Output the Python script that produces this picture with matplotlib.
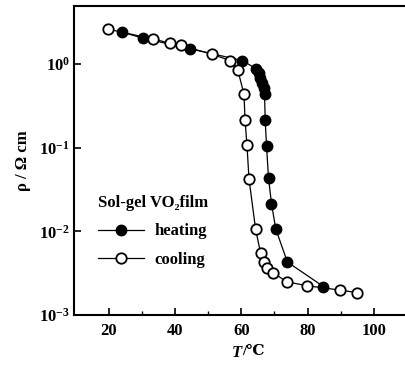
import matplotlib
matplotlib.use("Agg")
from matplotlib import pyplot as plt
from matplotlib.ticker import FixedLocator, NullLocator

# Heating curve (filled circles)
heat_T = [24.0, 30.2, 44.4, 60.3, 64.5, 65.2, 65.7, 66.2, 66.7, 67.0,
          67.2, 67.6, 68.2, 69.1, 70.4, 73.9, 84.8]
heat_rho = [2.38, 2.02, 1.51, 1.09, 0.87, 0.77, 0.68, 0.59, 0.51, 0.43,
            0.211, 0.104, 0.043, 0.0214, 0.0106, 0.0043, 0.00219]

# Cooling curve (open circles)
cool_T = [19.6, 33.4, 38.4, 41.7, 51.1, 56.6, 58.9, 60.8, 61.1, 61.7,
          62.3, 64.3, 65.8, 66.9, 67.8, 69.6, 73.7, 79.9, 89.8, 94.8]
cool_rho = [2.59, 1.97, 1.76, 1.65, 1.30, 1.09, 0.85, 0.43, 0.215, 0.106,
            0.0424, 0.0106, 0.0055, 0.0043, 0.0037, 0.0032, 0.0025, 0.00224,
            0.00199, 0.00186]

x_ticks = [20, 40, 60, 80, 100]
x_minor = [30, 50, 70, 90]
y_ticks = [1e-3, 1e-2, 1e-1, 1e0]
y_labels = [r"$10^{-3}$", r"$10^{-2}$", r"$10^{-1}$", r"$10^{0}$"]

plt.rcParams['font.family'] = ['Liberation Serif', 'DejaVu Serif']
plt.rcParams['font.weight'] = 'bold'
plt.rcParams['axes.labelweight'] = 'bold'
plt.rcParams['mathtext.fontset'] = 'custom'
plt.rcParams['mathtext.rm'] = 'Liberation Serif:bold'
plt.rcParams['mathtext.it'] = 'Liberation Serif:italic:bold'
plt.rcParams['mathtext.bf'] = 'Liberation Serif:bold'

fig = plt.figure(figsize=(4.05, 3.66), dpi=100)
ax = fig.add_axes([0.183, 0.139, 0.83, 0.845])

ax.plot(heat_T, heat_rho, '-o', color='black', lw=0.9, ms=7.5,
        mfc='black', mec='black', label='heating')
ax.plot(cool_T, cool_rho, '-o', color='black', lw=0.9, ms=7.5,
        mfc='white', mec='black', mew=1.3, label='cooling')

ax.set_yscale('log')
ax.set_xlim(9.5, 111)
ax.set_ylim(1e-3, 4.9)

ax.xaxis.set_major_locator(FixedLocator(x_ticks))
ax.xaxis.set_minor_locator(FixedLocator(x_minor))
ax.set_yticks(y_ticks)
ax.set_yticklabels(y_labels)
ax.yaxis.set_minor_locator(NullLocator())

ax.tick_params(which='major', direction='in', length=5, width=1.2,
               labelsize=12, pad=6)
ax.tick_params(which='minor', direction='in', length=3, width=1.0)
ax.tick_params(axis='y', pad=3)
for s in ax.spines.values():
    s.set_linewidth(1.5)

# x label: italic T followed by /℃
ax.text(0.5, -0.095, "T", transform=ax.transAxes, ha='right', va='top',
        fontsize=12, fontstyle='italic', fontweight='bold')
ax.text(0.5, -0.095, "/℃", transform=ax.transAxes, ha='left', va='top',
        fontsize=11, fontweight='bold')
ax.set_ylabel("ρ / Ω cm", fontsize=12, labelpad=6)

leg = ax.legend(loc='upper left', bbox_to_anchor=(0.05, 0.41), frameon=False,
                title="Sol-gel VO₂film", fontsize=12, title_fontsize=12,
                handlelength=2.8, handletextpad=0.6, labelspacing=0.75,
                alignment='left', borderaxespad=0)
leg.get_title().set_fontweight('bold')

fig.savefig("out.png", dpi=100)
